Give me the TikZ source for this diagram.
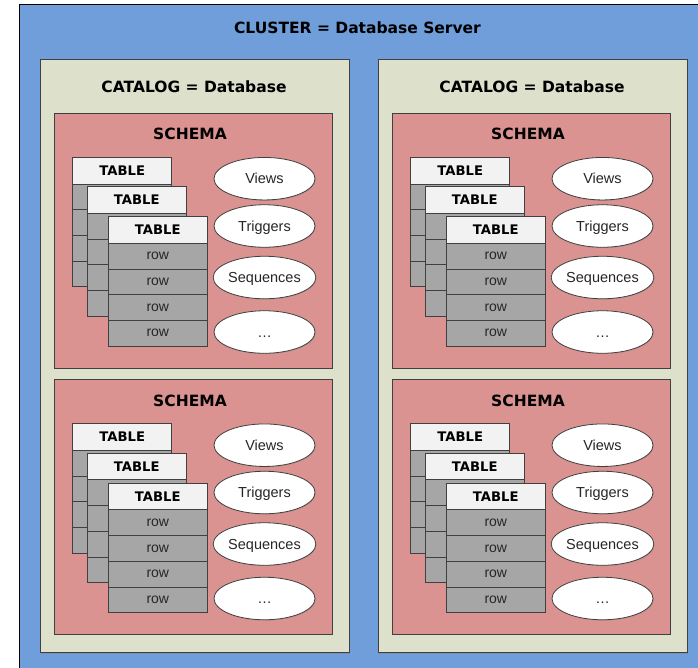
\documentclass[tikz,border=0pt]{standalone}
\usepackage{fontspec}
\setmainfont{Liberation Sans}
\newfontfamily\headfont{DejaVu Sans}
\usetikzlibrary{shapes.geometric,shadows}

\definecolor{serverblue}{RGB}{112,158,219}
\definecolor{catalogfill}{RGB}{221,225,204}
\definecolor{schemafill}{RGB}{218,147,144}
\definecolor{headfill}{RGB}{242,242,242}
\definecolor{rowfill}{RGB}{166,166,166}
\definecolor{edge}{RGB}{64,64,64}
\definecolor{labelgray}{RGB}{38,38,38}

\tikzset{
  every node/.style={inner sep=0pt, outer sep=0pt},
  serverbox/.style={draw=black, fill=serverblue, line width=0.9pt,
    anchor=north west, minimum width=720pt, minimum height=700pt},
  catalogbox/.style={draw=edge, fill=catalogfill, line width=0.9pt,
    anchor=north west, minimum width=309pt, minimum height=593.5pt,
    drop shadow={shadow xshift=1.4pt, shadow yshift=-1.4pt, opacity=0.45}},
  schemabox/.style={draw=edge, fill=schemafill, line width=0.9pt,
    anchor=north west, minimum width=278pt, minimum height=255pt},
  titletext/.style={font=\headfont\bfseries\fontsize{15.5pt}{18pt}\selectfont},
  tablehead/.style={draw=edge, fill=headfill, line width=0.8pt,
    anchor=north west, minimum width=99pt, minimum height=26.6pt,
    font=\headfont\bfseries\fontsize{13.2pt}{15pt}\selectfont,
    text height=9.6pt, text depth=0pt},
  rowbox/.style={draw=edge, fill=rowfill, line width=0.8pt,
    anchor=north west, minimum width=99pt, minimum height=25.7pt,
    font=\fontsize{14pt}{16pt}\selectfont, text=labelgray,
    text height=7.3pt, text depth=0pt},
  objellipse/.style={ellipse, draw=edge, fill=white, line width=0.8pt,
    minimum width=101pt, minimum height=42.5pt,
    font=\fontsize{14.5pt}{17pt}\selectfont, text=labelgray,
    text height=10.4pt, text depth=0pt,
    drop shadow={shadow xshift=0.8pt, shadow yshift=-0.8pt, opacity=0.3}},
  schema/.pic={
    \node[schemabox] (-box) at (0,0) {};
    \node[titletext] (-title) at (136,21) {SCHEMA};
    % three stacked tables, the front one showing its rows
    \foreach \k/\dx/\dy in {1/18.7/44.3, 2/33.3/73.7, 3/54.3/103.7} {
      \node[tablehead] (-t\k) at (\dx,\dy) {TABLE};
      \foreach \j in {1,...,4} {
        \node[rowbox] (-t\k-r\j) at (\dx,{\dy+26.6+25.7*(\j-1)})
          {\ifnum\k=3 row\fi};
      }
    }
    % other schema objects
    \foreach \j/\cy/\lab in {1/65.7/Views, 2/113/Triggers,
        3/164.5/Sequences, 4/219/…} {
      \node[objellipse] (-e\j) at (210.5,\cy) {\lab};
    }
  }
}

\begin{document}
\begin{tikzpicture}[x=1pt, y=-1pt]
  \useasboundingbox (0,0) rectangle (698,667);

  % cluster
  \node[serverbox] (server) at (19.5,4.5) {};
  \node[titletext] (server-title) at (357.5,28) {CLUSTER = Database Server};

  % left catalog
  \node[catalogbox] (cat1) at (40,59) {};
  \node[titletext] (cat1-title) at (194,87) {CATALOG = Database};
  \pic (s11) at (54,113) {schema};
  \pic (s12) at (54,379.5) {schema};

  % right catalog
  \node[catalogbox] (cat2) at (378,59) {};
  \node[titletext] (cat2-title) at (532,87) {CATALOG = Database};
  \pic (s21) at (392,113) {schema};
  \pic (s22) at (392,379.5) {schema};
\end{tikzpicture}
\end{document}
